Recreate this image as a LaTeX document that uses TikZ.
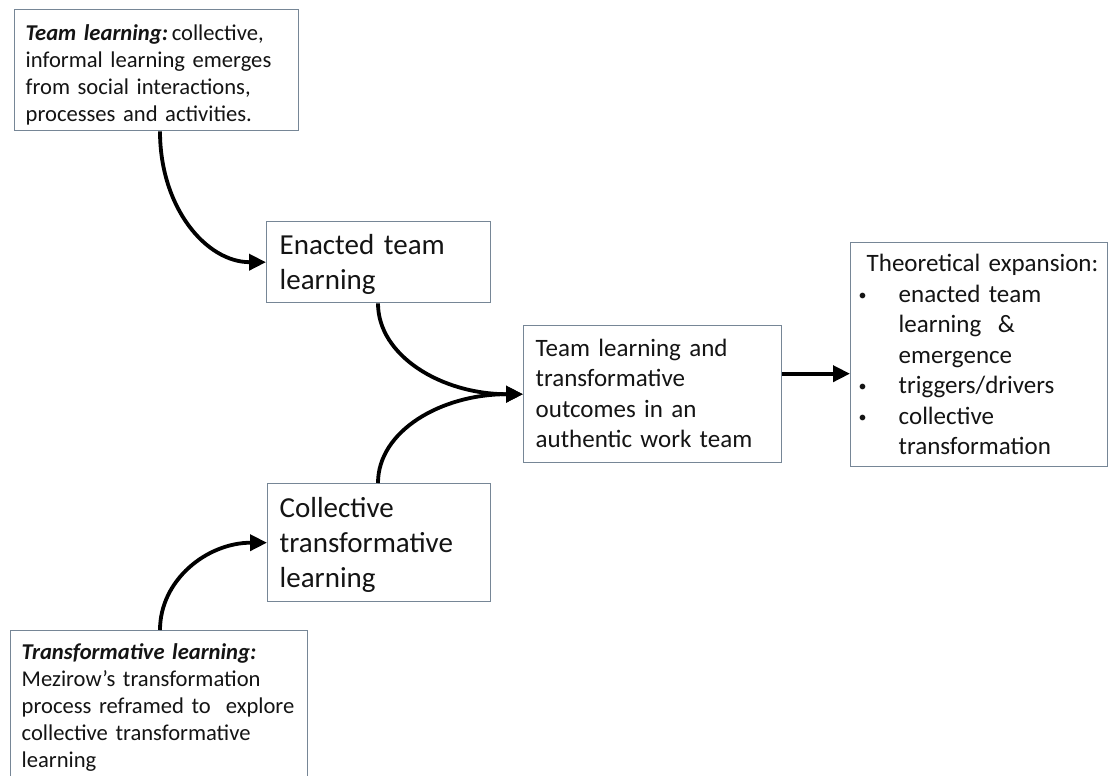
\documentclass[tikz,border=0pt]{standalone}
\usepackage{fontspec}
\setmainfont{Carlito}
\usetikzlibrary{arrows.meta}
\definecolor{boxline}{RGB}{118,134,150}
\definecolor{ink}{RGB}{20,20,20}
\tikzset{
  box/.style={draw=boxline, line width=1.4pt, fill=white, anchor=north west,
    align=left, text=ink, inner ysep=0pt},
  small/.style={font=\fontsize{22.6}{27}\selectfont},
  medium/.style={font=\fontsize{25}{30.5}\selectfont},
  large/.style={font=\fontsize{29}{35}\selectfont},
  flow/.style={line width=3.8pt, draw=black, -{Triangle[length=17pt,width=16pt]}},
}
\newcommand{\bul}{\makebox[40pt][l]{\raisebox{1.8pt}{\fontsize{16}{16}\selectfont •}}}
\newcommand{\cont}{\hspace*{40pt}}
\begin{document}
\begin{tikzpicture}[x=1pt, y=-1pt]
  \fill[white] (0,0) rectangle (1112,776);
  \useasboundingbox (0,0) rectangle (1112,776);

  % source concepts and the two lenses
  \node[box, small, inner xsep=11pt, text width=262pt, text height=30.6pt, text depth=90.4pt]
    (tl) at (14,9)
    {\mbox{\textbf{\textit{Team learning:}}\,collective,}\\ \mbox{informal learning emerges}\\
     \mbox{from social interactions,}\\ \mbox{processes and activities.}};

  \node[box, large, inner xsep=13pt, text width=198pt, text height=32.7pt, text depth=48.3pt]
    (en) at (266,221) {Enacted team\\ learning};

  \node[box, large, inner xsep=12pt, text width=199pt, text height=34pt, text depth=84pt]
    (co) at (267,483) {Collective\\ \mbox{transformative}\\ learning};

  \node[box, small, inner xsep=11pt, text width=275pt, text height=28.6pt, text depth=141.4pt]
    (bl) at (10,630)
    {\mbox{\textbf{\textit{Transformative learning:}}}\\ \mbox{Mezirow’s transformation}\\
     \mbox{process reframed to~ explore}\\ \mbox{collective transformative}\\ learning};

  % outcome and contribution
  \node[box, medium, inner xsep=12pt, text width=234pt, text height=30.4pt, text depth=106.6pt]
    (mid) at (523,325)
    {Team learning and\\ transformative\\ outcomes in an\\ \mbox{authentic work team}};

  \node[box, medium, inner xsep=8pt, text width=241pt, text height=29pt, text depth=195pt]
    (rb) at (850,242)
    {\mbox{\hspace*{8pt}Theoretical expansion:}\\
     \mbox{\bul enacted team}\\
     \mbox{\cont learning~ \&}\\
     \mbox{\cont emergence}\\
     \mbox{\bul triggers/drivers}\\
     \mbox{\bul collective}\\
     \mbox{\cont transformation}};

  % connectors
  \draw[flow] ([xshift=146pt]tl.south west) .. controls +(0,76) and +(-60,0) .. (en.west);
  \draw[flow] ([xshift=112pt]en.south west) .. controls +(0,52) and +(-82,0) .. (mid.west);
  \draw[flow] ([xshift=111pt]co.north west) .. controls +(0,-52) and +(-82,0) .. (mid.west);
  \draw[flow] ([xshift=150pt]bl.north west) .. controls +(0,-50) and +(-60,0) .. (co.west);
  \draw[flow] ([yshift=20.5pt]mid.east) -- ([yshift=20.5pt]mid.east -| rb.west);
\end{tikzpicture}
\end{document}
